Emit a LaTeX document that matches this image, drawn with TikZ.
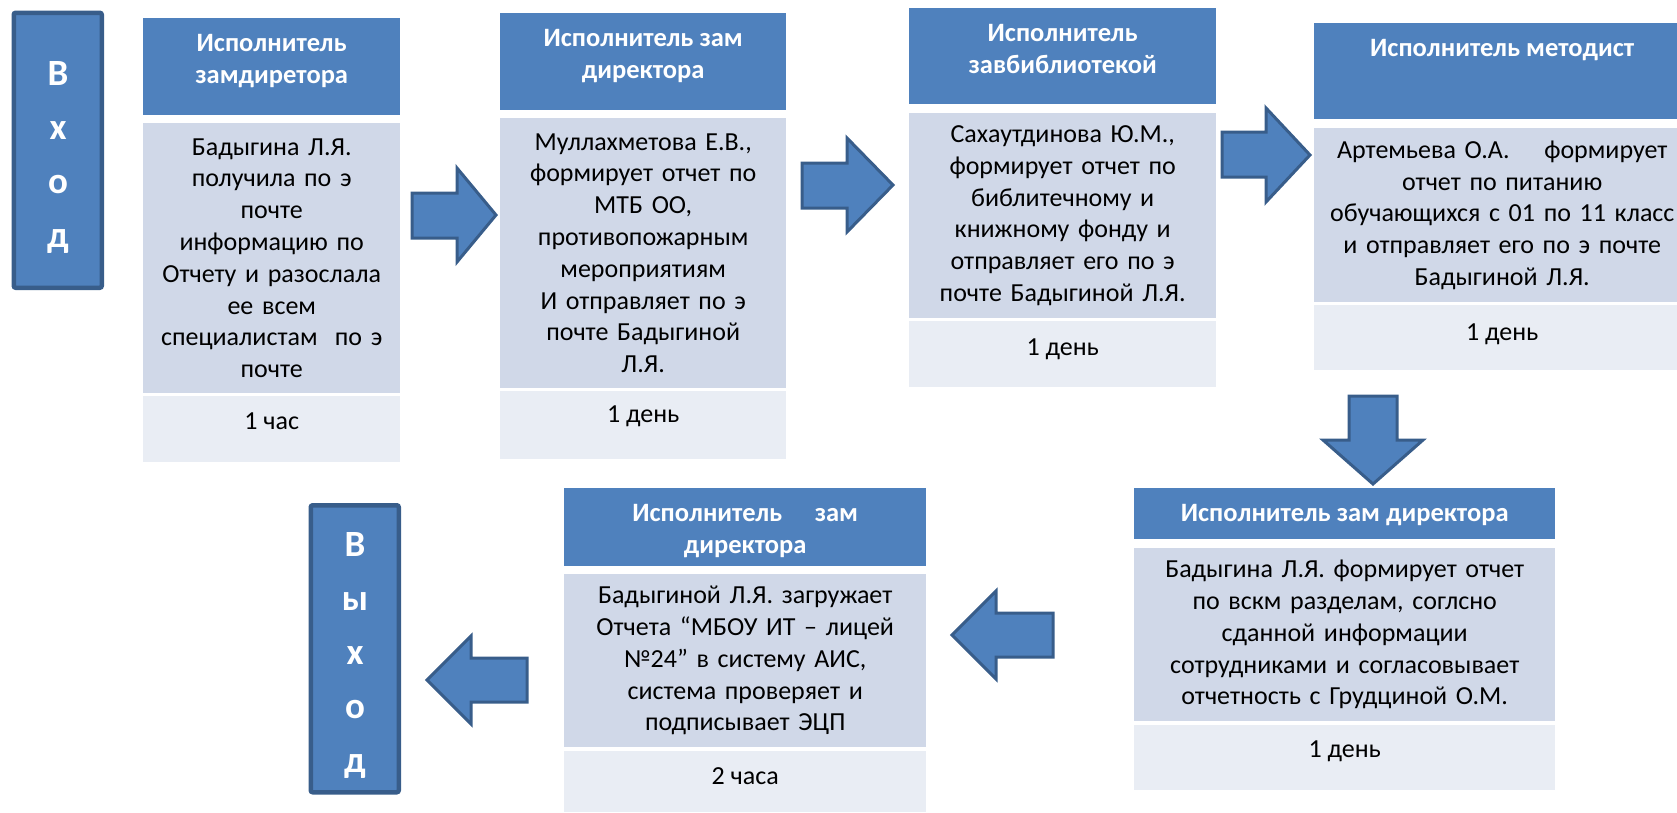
\documentclass[tikz,border=0pt]{standalone}
\usepackage{fontspec}
\setmainfont{Carlito}
\usetikzlibrary{positioning}
\definecolor{hdrblue}{RGB}{79,129,189}
\definecolor{edgeblue}{RGB}{56,93,138}
\definecolor{bodyblue}{RGB}{208,216,232}
\definecolor{footblue}{RGB}{233,237,244}

\begin{document}
\begin{tikzpicture}[x=1pt, y=-1pt,
    part/.style={inner sep=0pt, anchor=north west},
    hdr/.style={part, fill=hdrblue},
    body/.style={part, fill=bodyblue, align=center, font=\fontsize{26}{31.8}\selectfont},
    foot/.style={part, fill=footblue},
    hdrtxt/.style={inner sep=0pt, anchor=base, align=center, text=white, font=\fontsize{26.5}{31.8}\selectfont\bfseries},
    foottxt/.style={inner sep=0pt, anchor=base, font=\fontsize{26}{31.8}\selectfont},
    gate/.style={fill=hdrblue, draw=edgeblue, line width=4.5pt, rounded corners=2pt, inner sep=0pt, anchor=north west},
    gatetxt/.style={inner sep=0pt, align=center, text=white, font=\fontsize{37}{54}\selectfont\bfseries},
    bigarrow/.style={fill=hdrblue, draw=edgeblue, line width=3pt, line join=miter}]
    \useasboundingbox (0,0) rectangle (1677,812);

    % entry and exit
    \node[gate, minimum width=88, minimum height=275] (entry) at (11.5,10.5) {};
    \node[gatetxt] (entrytxt) at (58,157) {В\\х\\о\\д};
    \node[gate, minimum width=88, minimum height=287] (exit) at (308.5,503) {};
    \node[gatetxt] (exittxt) at (355,655) {В\\ы\\х\\о\\д};

    % stage 1
    \node[hdr, minimum width=257, minimum height=97] (hdrA) at (143,18) {};
    \node[hdrtxt] (hdrAtxt) at ([yshift=-65pt]hdrA.north) {Исполнитель\\замдиретора};
    \node[body, minimum width=257, minimum height=270, text width=252] (bodyA) at (143,123)
      {Бадыгина Л.Я.\\получила по э\\почте\\информацию по\\Отчету и разослала\\ее всем\\специалистам\ \ по э\\почте};
    \node[foot, minimum width=257, minimum height=66] (footA) at (143,396) {};
    \node[foottxt] (footAtxt) at ([yshift=-33pt]footA.north) {1 час};

    % stage 2
    \node[hdr, minimum width=286, minimum height=97] (hdrB) at (500,13) {};
    \node[hdrtxt] (hdrBtxt) at ([yshift=-65pt]hdrB.north) {Исполнитель зам\\директора};
    \node[body, minimum width=286, minimum height=270, text width=280] (bodyB) at (500,118)
      {Муллахметова Е.В.,\\формирует отчет по\\МТБ ОО,\\противопожарным\\мероприятиям\\И отправляет по э\\почте Бадыгиной\\Л.Я.};
    \node[foot, minimum width=286, minimum height=68] (footB) at (500,391) {};
    \node[foottxt] (footBtxt) at ([yshift=-31pt]footB.north) {1 день};

    % stage 3
    \node[hdr, minimum width=307, minimum height=96] (hdrC) at (909,8) {};
    \node[hdrtxt] (hdrCtxt) at ([yshift=-65pt]hdrC.north) {Исполнитель\\завбиблиотекой};
    \node[body, minimum width=307, minimum height=205, text width=300] (bodyC) at (909,113)
      {Сахаутдинова Ю.М.,\\формирует отчет по\\библитечному и\\книжному фонду и\\отправляет его по э\\почте Бадыгиной Л.Я.};
    \node[foot, minimum width=307, minimum height=66] (footC) at (909,321) {};
    \node[foottxt] (footCtxt) at ([yshift=-34pt]footC.north) {1 день};

    % stage 4
    \node[hdr, minimum width=376, minimum height=96] (hdrD) at (1314,23) {};
    \node[hdrtxt] (hdrDtxt) at ([yshift=-33pt]hdrD.north) {Исполнитель методист};
    \node[body, minimum width=376, minimum height=174, text width=370] (bodyD) at (1314,128)
      {Артемьева О.А.\quad\ формирует\\отчет по питанию\\обучающихся с 01 по 11 класс\\и отправляет его по э почте\\Бадыгиной Л.Я.};
    \node[foot, minimum width=376, minimum height=65] (footD) at (1314,305) {};
    \node[foottxt] (footDtxt) at ([yshift=-35pt]footD.north) {1 день};

    % stage 5
    \node[hdr, minimum width=421, minimum height=51] (hdrE) at (1134,488) {};
    \node[hdrtxt] (hdrEtxt) at ([yshift=-33pt]hdrE.north) {Исполнитель зам директора};
    \node[body, minimum width=421, minimum height=173, text width=414] (bodyE) at (1134,548)
      {Бадыгина Л.Я. формирует отчет\\по вскм разделам, соглсно\\сданной информации\\сотрудниками и согласовывает\\отчетность с Грудциной О.М.};
    \node[foot, minimum width=421, minimum height=65] (footE) at (1134,725) {};
    \node[foottxt] (footEtxt) at ([yshift=-32pt]footE.north) {1 день};

    % stage 6
    \node[hdr, minimum width=362, minimum height=78] (hdrF) at (564,488) {};
    \node[hdrtxt] (hdrFtxt) at ([yshift=-65pt]hdrF.north) {Исполнитель\quad\ зам\\директора};
    \node[body, minimum width=362, minimum height=173, text width=356] (bodyF) at (564,574)
      {Бадыгиной Л.Я. загружает\\Отчета “МБОУ ИТ – лицей\\№24” в систему АИС,\\система проверяет и\\подписывает ЭЦП};
    \node[foot, minimum width=362, minimum height=61] (footF) at (564,751) {};
    \node[foottxt] (footFtxt) at ([yshift=-33pt]footF.north) {2 часа};

    % block arrows between the stages
    \draw[bigarrow] (412,193) -- (457,193) -- (457,168) -- (496,215) -- (457,262) -- (457,238) -- (412,238) -- cycle;
    \draw[bigarrow] (802,163) -- (847,163) -- (847,138) -- (893,185) -- (847,232) -- (847,208) -- (802,208) -- cycle;
    \draw[bigarrow] (1222,132) -- (1266,132) -- (1266,108) -- (1310,155) -- (1266,202) -- (1266,177) -- (1222,177) -- cycle;
    \draw[bigarrow] (1349,396) -- (1397,396) -- (1397,440) -- (1423,440) -- (1373,484) -- (1323,440) -- (1349,440) -- cycle;
    \draw[bigarrow] (1053,613) -- (996,613) -- (996,591) -- (952,635) -- (996,679) -- (996,657) -- (1053,657) -- cycle;
    \draw[bigarrow] (527,658) -- (471,658) -- (471,636) -- (427,680) -- (471,724) -- (471,702) -- (527,702) -- cycle;
\end{tikzpicture}
\end{document}
